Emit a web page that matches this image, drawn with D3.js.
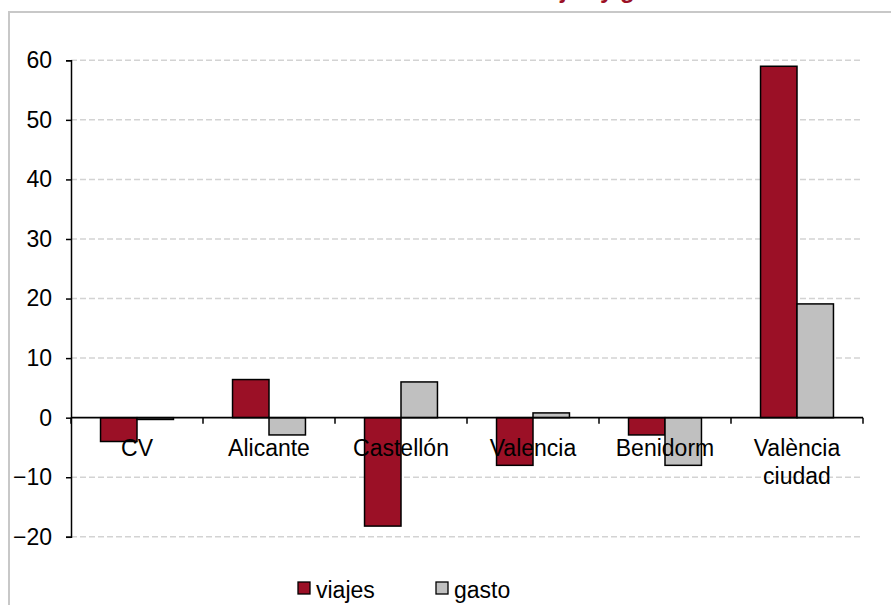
<!DOCTYPE html>
<html><head><meta charset="utf-8">
<script src="https://cdn.jsdelivr.net/npm/d3@7"></script>
<style>body{margin:0;background:#fff}svg{display:block}</style>
</head><body>
<script>
const categories = ["CV", "Alicante", "Castellón", "Valencia", "Benidorm", "València ciudad"];
const seriesNames = ["viajes", "gasto"];
const viajes = [-4.0, 6.4, -18.2, -8.0, -2.9, 59.0];
const gasto = [-0.3, -2.9, 6.0, 0.8, -8.0, 19.1];
const yTicks = [-20, -10, 0, 10, 20, 30, 40, 50, 60];
const colors = ["#9b1026", "#c0c0c0"];

const W = 891, H = 605;
const FS = 23;
const svg = d3.select("body").append("svg").attr("width", W).attr("height", H)
  .style("font-family", "'Liberation Sans', Arial, sans-serif");

// frame
svg.append("rect").attr("x", 9).attr("y", 12).attr("width", 1000).attr("height", 800)
  .attr("fill", "none").attr("stroke", "#c8c8c8").attr("stroke-width", 2);

// title (cut off at top, as in the reference)
svg.append("text").attr("x", 684).attr("y", -2).attr("text-anchor", "end")
  .attr("font-weight", "bold").attr("font-size", 24).attr("fill", "#9b1026")
  .text("Variación de viajes y gasto");

const left = 71, right = 863;
const y = d3.scaleLinear().domain([-20, 60]).range([536.8, 60.3]);
const x0 = d3.scaleBand().domain(categories).range([left, right]);
const x1 = d3.scaleBand().domain(seriesNames).range([0, x0.bandwidth()]).paddingOuter(0.81);

// gridlines
svg.append("g").selectAll("line").data(yTicks.filter(d => d !== 0)).join("line")
  .attr("x1", left).attr("x2", right - 1).attr("y1", d => y(d)).attr("y2", d => y(d))
  .attr("stroke", "#d3d3d3").attr("stroke-width", 1.5).attr("stroke-dasharray", "6,3");

// bars
const data = categories.map((c, i) => ({c, vals: [viajes[i], gasto[i]]}));
const g = svg.append("g");
data.forEach(d => {
  seriesNames.forEach((s, j) => {
    const v = d.vals[j];
    g.append("rect")
      .attr("x", x0(d.c) + x1(s)).attr("width", x1.bandwidth())
      .attr("y", y(Math.max(0, v))).attr("height", Math.abs(y(v) - y(0)))
      .attr("fill", colors[j]).attr("stroke", "#000").attr("stroke-width", 1.5);
  });
});

// y axis
const yAxis = svg.append("g").attr("transform", `translate(${left},0)`)
  .call(d3.axisLeft(y).tickValues(yTicks).tickSize(5).tickPadding(14).tickFormat(d3.format("d")));
yAxis.select(".domain").attr("stroke", "#000").attr("stroke-width", 1.5);
yAxis.selectAll(".tick line").attr("stroke", "#000").attr("stroke-width", 1.5);
yAxis.selectAll("text").attr("font-size", FS).attr("fill", "#000")
  .attr("font-family", "'Liberation Sans', Arial, sans-serif");

// x axis at zero
const xa = svg.append("g").attr("transform", `translate(0,${y(0)})`);
xa.append("line").attr("x1", left).attr("x2", right).attr("stroke", "#000").attr("stroke-width", 1.8);
const bounds = categories.map(c => x0(c)).concat([right]);
xa.selectAll("line.t").data(bounds).join("line").attr("class", "t")
  .attr("x1", d => d).attr("x2", d => d).attr("y1", 0).attr("y2", 6)
  .attr("stroke", "#000").attr("stroke-width", 1.5);

// category labels
categories.forEach(c => {
  const cx = x0(c) + x0.bandwidth() / 2;
  const words = c === "València ciudad" ? ["València", "ciudad"] : [c];
  words.forEach((w, k) => {
    svg.append("text").attr("x", cx).attr("y", y(0) + 38 + k * 28)
      .attr("text-anchor", "middle").attr("font-size", FS).attr("fill", "#000").text(w);
  });
});

// legend
const lx = [298, 436];
seriesNames.forEach((s, j) => {
  svg.append("rect").attr("x", lx[j]).attr("y", 582).attr("width", 12).attr("height", 12)
    .attr("fill", colors[j]).attr("stroke", "#000").attr("stroke-width", 1.3);
  svg.append("text").attr("x", lx[j] + 18).attr("y", 598).attr("font-size", FS).attr("fill", "#000").text(s);
});
</script>
</body></html>
